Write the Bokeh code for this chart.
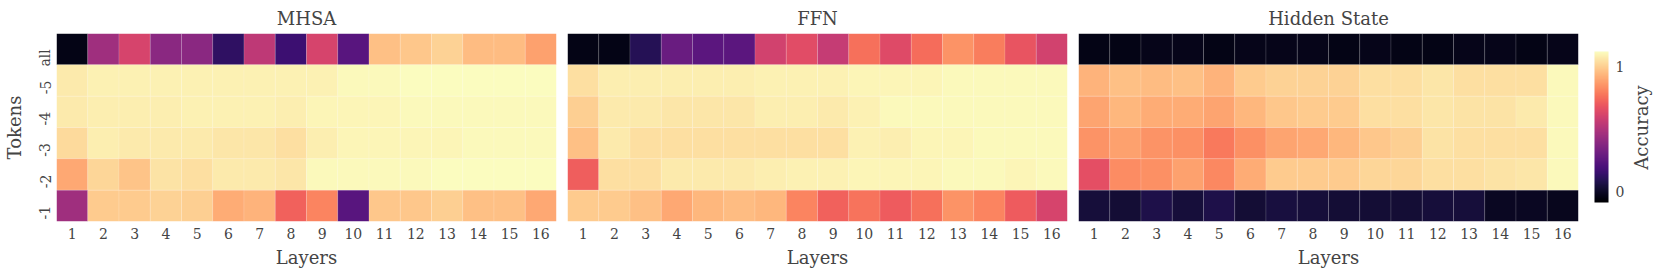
import math
from bokeh.plotting import figure
from bokeh.models import (LinearColorMapper, ColorBar, FixedTicker,
                          ColumnDataSource, FactorRange, Range1d)
from bokeh.palettes import Magma256
from bokeh.layouts import row
from bokeh.embed import file_html
from bokeh.resources import INLINE

# ---------------- data ----------------
layers = [str(i) for i in range(1, 17)]
tokens = ["all", "-5", "-4", "-3", "-2", "-1"]
titles = ["MHSA", "FFN", "Hidden State"]
cbar_ticks = [0, 1]
cbar_label = "Accuracy"
v_low, v_high = -0.09, 1.12

mhsa_all = [-0.04, 0.45, 0.61, 0.39, 0.39, 0.12, 0.54, 0.16, 0.61, 0.24, 0.96, 0.98, 1.01, 0.95, 0.95, 0.88]
mhsa_m5 = [1.07, 1.09, 1.09, 1.09, 1.09, 1.09, 1.09, 1.09, 1.09, 1.11, 1.11, 1.12, 1.12, 1.12, 1.12, 1.12]
mhsa_m4 = [1.07, 1.08, 1.08, 1.08, 1.09, 1.09, 1.09, 1.08, 1.10, 1.10, 1.10, 1.11, 1.11, 1.11, 1.11, 1.11]
mhsa_m3 = [1.03, 1.08, 1.07, 1.07, 1.07, 1.06, 1.06, 1.04, 1.08, 1.10, 1.10, 1.10, 1.10, 1.11, 1.11, 1.11]
mhsa_m2 = [0.90, 1.02, 0.97, 1.05, 1.04, 1.07, 1.07, 1.06, 1.11, 1.11, 1.11, 1.11, 1.12, 1.12, 1.12, 1.12]
mhsa_m1 = [0.45, 0.99, 0.99, 1.01, 1.00, 0.91, 0.93, 0.72, 0.81, 0.24, 0.98, 0.98, 1.00, 0.96, 0.96, 0.90]

ffn_all = [-0.04, -0.04, 0.09, 0.29, 0.25, 0.25, 0.60, 0.65, 0.56, 0.76, 0.64, 0.75, 0.85, 0.79, 0.68, 0.60]
ffn_m5 = [1.04, 1.08, 1.08, 1.08, 1.08, 1.08, 1.09, 1.09, 1.09, 1.10, 1.10, 1.10, 1.11, 1.11, 1.11, 1.11]
ffn_m4 = [1.00, 1.07, 1.07, 1.06, 1.06, 1.06, 1.08, 1.08, 1.07, 1.09, 1.11, 1.11, 1.11, 1.11, 1.11, 1.11]
ffn_m3 = [0.96, 1.07, 1.04, 1.04, 1.04, 1.04, 1.04, 1.04, 1.04, 1.09, 1.08, 1.10, 1.10, 1.11, 1.11, 1.11]
ffn_m2 = [0.71, 1.04, 1.04, 1.07, 1.07, 1.07, 1.08, 1.09, 1.09, 1.10, 1.10, 1.10, 1.11, 1.11, 1.10, 1.11]
ffn_m1 = [0.99, 0.99, 0.96, 0.90, 0.94, 0.95, 0.94, 0.81, 0.72, 0.77, 0.70, 0.76, 0.85, 0.81, 0.70, 0.61]

hid_all = [-0.04, -0.04, -0.03, -0.03, -0.04, -0.03, -0.03, -0.03, -0.04, -0.03, -0.04, -0.04, -0.03, -0.03, -0.04, -0.03]
hid_m5 = [0.93, 0.96, 0.95, 0.96, 0.93, 0.99, 1.01, 1.01, 1.01, 1.04, 1.04, 1.06, 1.04, 1.04, 1.04, 1.11]
hid_m4 = [0.89, 0.94, 0.91, 0.91, 0.89, 0.94, 0.98, 0.99, 0.99, 1.04, 1.04, 1.06, 1.05, 1.05, 1.07, 1.11]
hid_m3 = [0.85, 0.88, 0.85, 0.84, 0.78, 0.84, 0.89, 0.90, 0.94, 0.98, 1.00, 1.05, 1.04, 1.04, 1.04, 1.11]
hid_m2 = [0.66, 0.83, 0.84, 0.88, 0.82, 0.91, 0.99, 0.99, 0.99, 1.02, 1.02, 1.04, 1.04, 1.05, 1.06, 1.11]
hid_m1 = [0.04, 0.03, 0.07, 0.04, 0.07, 0.03, 0.05, 0.04, 0.03, 0.03, 0.03, 0.04, 0.04, -0.01, -0.01, -0.02]

panels = [
    [mhsa_all, mhsa_m5, mhsa_m4, mhsa_m3, mhsa_m2, mhsa_m1],
    [ffn_all, ffn_m5, ffn_m4, ffn_m3, ffn_m2, ffn_m1],
    [hid_all, hid_m5, hid_m4, hid_m3, hid_m2, hid_m1],
]

# ---------------- style ----------------
FONT = "DejaVu Serif"
mapper = LinearColorMapper(palette=Magma256, low=v_low, high=v_high)

BT, BB, FH = 33, 45, 188
borders = [(50, 5), (6, 5), (6, 48)]
figs = []
for i, (title, rows_) in enumerate(zip(titles, panels)):
    xs, ys, vs = [], [], []
    for tok, vals in zip(tokens, rows_):
        for lay, v in zip(layers, vals):
            xs.append(lay); ys.append(tok); vs.append(v)
    src = ColumnDataSource(dict(x=xs, y=ys, v=vs))
    bl, br = borders[i]
    p = figure(x_range=FactorRange(factors=layers),
               y_range=FactorRange(factors=list(reversed(tokens))),
               frame_width=500, frame_height=FH,
               min_border_left=bl, min_border_right=br,
               min_border_top=BT, min_border_bottom=BB,
               output_backend="svg", toolbar_location=None)
    p.rect(x="x", y="y", width=1, height=1, source=src,
           fill_color={"field": "v", "transform": mapper},
           line_color="white", line_alpha=0.25, line_width=0.5)
    p.title.text = title
    p.title.align = "center"
    p.title.text_font = FONT
    p.title.text_font_size = "18px"
    p.title.text_font_style = "normal"
    p.title.standoff = 9
    p.grid.visible = False
    p.outline_line_color = None
    p.background_fill_color = "white"

    ax = p.xaxis[0]
    ax.axis_label = "Layers"
    ax.axis_label_text_font = FONT
    ax.axis_label_text_font_size = "18px"
    ax.axis_label_text_font_style = "normal"
    ax.axis_label_standoff = 5
    ax.major_label_text_font = FONT
    ax.major_label_text_font_size = "14px"
    ax.major_label_standoff = 0
    ax.major_tick_line_color = None
    ax.minor_tick_line_color = None
    ax.axis_line_color = None

    ay = p.yaxis[0]
    if i == 0:
        ay.axis_label = "Tokens"
        ay.axis_label_text_font = FONT
        ay.axis_label_text_font_size = "18px"
        ay.axis_label_text_font_style = "normal"
        ay.axis_label_standoff = 2
        ay.major_label_text_font = FONT
        ay.major_label_text_font_size = "14px"
        ay.major_label_orientation = math.pi / 2
        ay.major_label_standoff = 5
        ay.major_tick_line_color = None
        ay.minor_tick_line_color = None
        ay.axis_line_color = None
    else:
        ay.visible = False
    figs.append(p)

p3 = figs[2]
cb = ColorBar(color_mapper=mapper, ticker=FixedTicker(ticks=cbar_ticks),
              width=14, height=151, padding=0, margin=0, location=(16, 19),
              major_tick_line_color=None, bar_line_color=None,
              major_label_text_font=FONT, major_label_text_font_size="14px",
              label_standoff=7, background_fill_alpha=0)
p3.add_layout(cb, "right")

# small companion figure carrying the colour-bar label (left axis label reads bottom-to-top)
p4 = figure(x_range=Range1d(0, 1), y_range=Range1d(v_low, v_high),
            frame_width=4, frame_height=FH,
            min_border_left=0, min_border_right=0,
            min_border_top=BT, min_border_bottom=BB,
            output_backend="svg", toolbar_location=None)
p4.xaxis.visible = False
p4.grid.visible = False
p4.outline_line_color = None
ya = p4.yaxis[0]
ya.ticker = FixedTicker(ticks=[])
ya.axis_label = cbar_label
ya.axis_label_text_font = FONT
ya.axis_label_text_font_size = "18px"
ya.axis_label_text_font_style = "normal"
ya.axis_label_standoff = 0
ya.major_label_standoff = 0
ya.major_tick_out = 0
ya.major_tick_in = 0
ya.minor_tick_out = 0
ya.minor_tick_in = 0
ya.major_tick_line_color = None
ya.minor_tick_line_color = None
ya.axis_line_color = None

layout = row(*figs, p4)
open("out.html", "w").write(file_html(layout, INLINE))
